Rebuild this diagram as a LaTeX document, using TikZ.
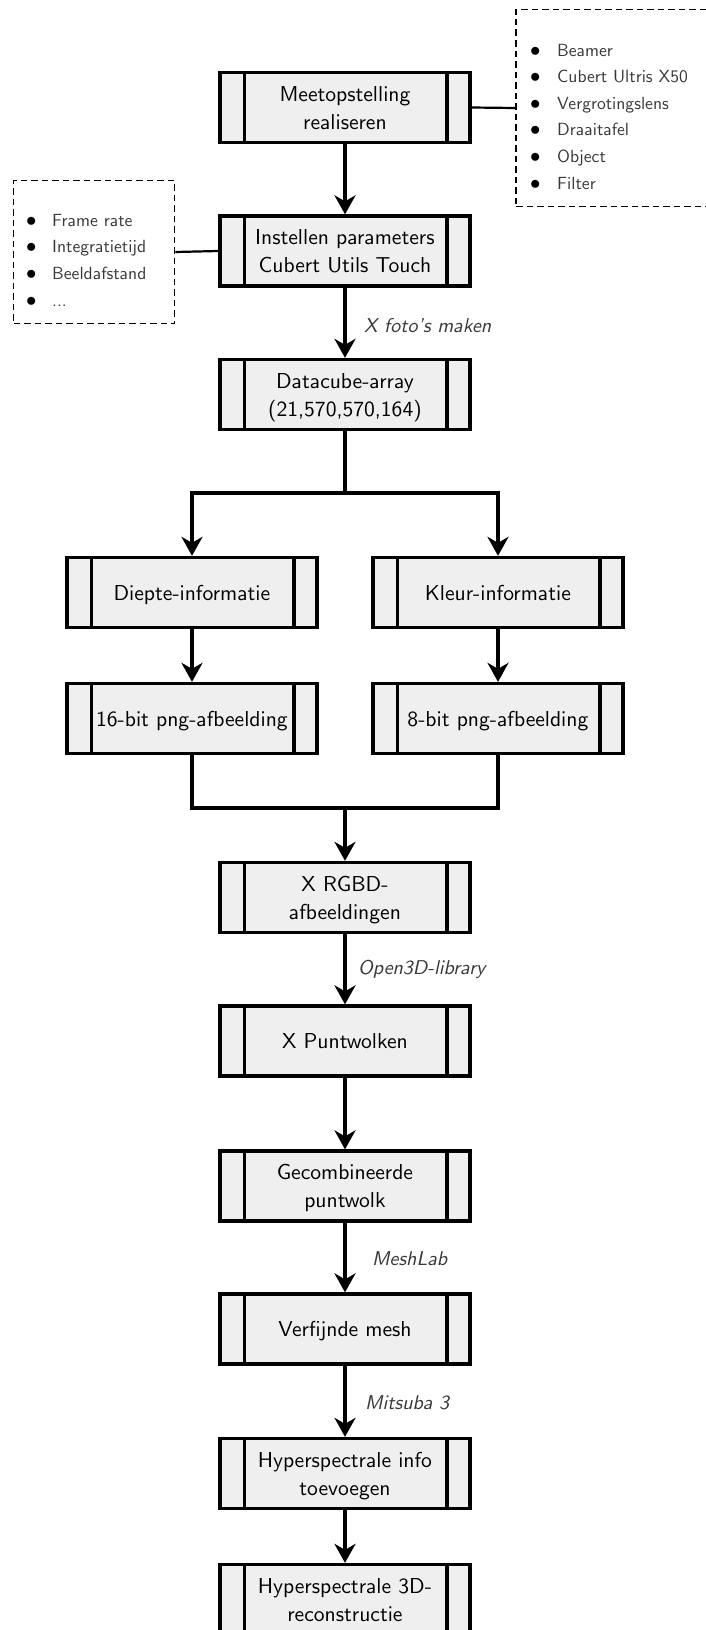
\documentclass[tikz,border=0pt]{standalone}
\usetikzlibrary{arrows.meta}
\definecolor{boxfill}{HTML}{EFEFEF}
\definecolor{labc}{HTML}{383838}
\font\boxfont=cmss10 at 21.6pt
\font\labfont=cmssi10 at 20pt
\font\listfont=cmss10 at 17.6pt
\newcommand\blt{\textcolor{black}{\scalebox{1.2}{$\bullet$}}}
\begin{document}
\begin{tikzpicture}[x=1pt,y=-1pt,
  proc/.style={draw, line width=3.3pt, fill=boxfill, minimum width=250pt, minimum height=70pt,
    inner sep=0pt, align=center, text depth=0pt, font=\fontsize{21.6}{28}\selectfont\boxfont,
    path picture={\draw[line width=3.3pt]
      ([xshift=24.5pt]path picture bounding box.north west) -- ([xshift=24.5pt]path picture bounding box.south west)
      ([xshift=-23pt]path picture bounding box.north east) -- ([xshift=-23pt]path picture bounding box.south east);}},
  arr/.style={line width=3.3pt, -{Stealth[length=19pt,width=21pt,inset=6pt]}},
  ln/.style={line width=3.3pt},
  lab/.style={font=\fontsize{20}{24}\selectfont\labfont, text=labc, anchor=west, inner sep=0pt},
  dbox/.style={draw, line width=1.6pt, dash pattern=on 6.5pt off 4pt, inner sep=0pt},
  listtxt/.style={font=\fontsize{17.6}{26.6}\selectfont\listfont, text=labc, align=left, anchor=west, inner sep=0pt},
  side/.style={line width=2.2pt}
]
\useasboundingbox (0,0) rectangle (706,1630);
\clip (0,0) rectangle (706,1630);

% dashed info boxes
\node[dbox, minimum width=196pt, minimum height=197pt] (d1) at (614,108) {};
\node[listtxt] (l1) at (530,116.5) {%
\makebox[27pt][l]{\blt}Beamer\\
\makebox[27pt][l]{\blt}Cubert Ultris X50\\
\makebox[27pt][l]{\blt}Vergrotingslens\\
\makebox[27pt][l]{\blt}Draaitafel\\
\makebox[27pt][l]{\blt}Object\\
\makebox[27pt][l]{\blt}Filter};
\node[dbox, minimum width=161pt, minimum height=143pt] (d2) at (94,252) {};
\node[listtxt] (l2) at (26,260) {%
\makebox[26pt][l]{\blt}Frame rate\\
\makebox[26pt][l]{\blt}Integratietijd\\
\makebox[26pt][l]{\blt}Beeldafstand\\
\makebox[26pt][l]{\blt}...};

% process boxes
\node[proc] (n1) at (345,107.5) {Meetopstelling\\realiseren};
\node[proc] (n2) at (345,251) {Instellen parameters\\Cubert Utils Touch};
\node[proc] (n3) at (345,394.5) {Datacube-array\\(21,570,570,164)};
\node[proc] (dl) at (192,592.5) {Diepte-informatie};
\node[proc] (dr) at (498,592.5) {Kleur-informatie};
\node[proc] (bl) at (192,718.5) {16-bit png-afbeelding};
\node[proc] (br) at (498,718.5) {8-bit png-afbeelding};
\node[proc] (n4) at (345,897.5) {X RGBD-\\afbeeldingen};
\node[proc] (n5) at (345,1041) {X Puntwolken};
\node[proc] (n6) at (345,1186) {Gecombineerde\\puntwolk};
\node[proc] (n7) at (345,1329) {Verfijnde mesh};
\node[proc] (n8) at (345,1473.5) {Hyperspectrale info\\toevoegen};
\node[proc] (n9) at (345,1599.5) {Hyperspectrale 3D-\\reconstructie};

\coordinate (s) at (345,493);
\coordinate (m) at (345,808);

% side connectors
\draw[side] (n1.east) -- (d1.west);
\draw[side] (n2.west) -- (d2.east);

% connectors
\draw[arr] (n1) -- (n2);
\draw[arr] (n2) -- (n3);
\draw[ln] (n3.south) -- (s);
\draw[arr] (s) -| (dl.north);
\draw[arr] (s) -| (dr.north);
\draw[arr] (dl) -- (bl);
\draw[arr] (dr) -- (br);
\draw[ln] (bl.south) |- (m);
\draw[ln] (br.south) |- (m);
\draw[arr] (m) -- (n4.north);
\draw[arr] (n4) -- (n5);
\draw[arr] (n5) -- (n6);
\draw[arr] (n6) -- (n7);
\draw[arr] (n7) -- (n8);
\draw[arr] (n8) -- (n9);

% labels
\node[lab] (t1) at (364,326) {X foto's maken};
\node[lab] (t2) at (358,969) {Open3D-library};
\node[lab] (t3) at (372,1259) {MeshLab};
\node[lab] (t4) at (365,1403) {Mitsuba 3};
\end{tikzpicture}
\end{document}
